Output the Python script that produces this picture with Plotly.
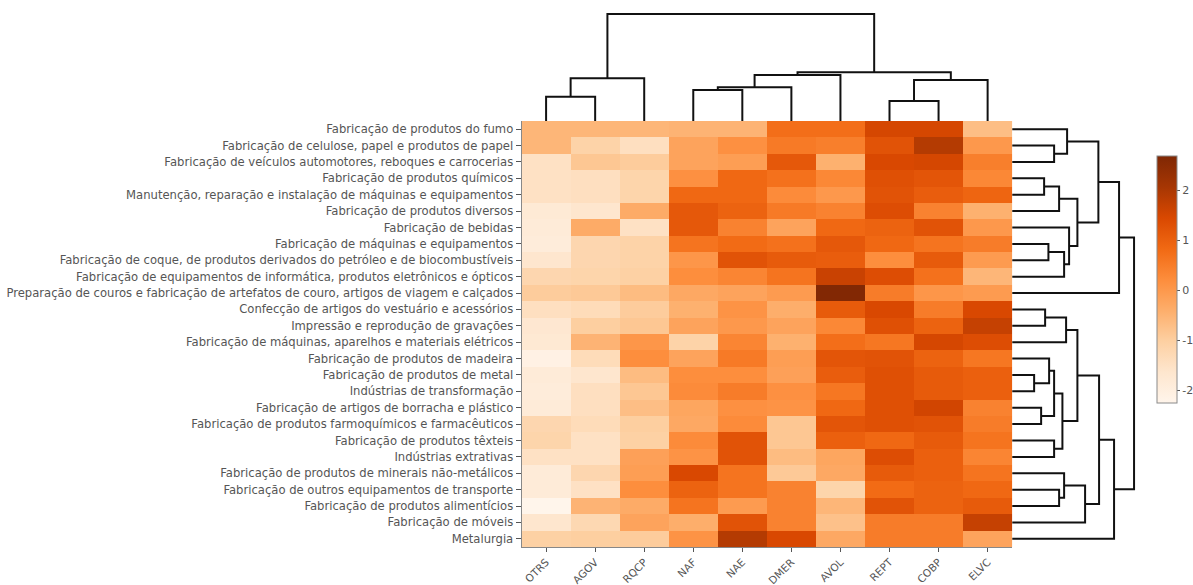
import plotly.graph_objects as go
import plotly.colors as pc

# ---------------- data ----------------
columns = ["OTRS", "AGOV", "RQCP", "NAF", "NAE", "DMER", "AVOL", "REPT", "COBP", "ELVC"]

rows = [
    "Fabricação de produtos do fumo",
    "Fabricação de celulose, papel e produtos de papel",
    "Fabricação de veículos automotores, reboques e carrocerias",
    "Fabricação de produtos químicos",
    "Manutenção, reparação e instalação de máquinas e equipamentos",
    "Fabricação de produtos diversos",
    "Fabricação de bebidas",
    "Fabricação de máquinas e equipamentos",
    "Fabricação de coque, de produtos derivados do petróleo e de biocombustíveis",
    "Fabricação de equipamentos de informática, produtos eletrônicos e ópticos",
    "Preparação de couros e fabricação de artefatos de couro, artigos de viagem e calçados",
    "Confecção de artigos do vestuário e acessórios",
    "Impressão e reprodução de gravações",
    "Fabricação de máquinas, aparelhos e materiais elétricos",
    "Fabricação de produtos de madeira",
    "Fabricação de produtos de metal",
    "Indústrias de transformação",
    "Fabricação de artigos de borracha e plástico",
    "Fabricação de produtos farmoquímicos e farmacêuticos",
    "Fabricação de produtos têxteis",
    "Indústrias extrativas",
    "Fabricação de produtos de minerais não-metálicos",
    "Fabricação de outros equipamentos de transporte",
    "Fabricação de produtos alimentícios",
    "Fabricação de móveis",
    "Metalurgia",
]

# z-scores, one list per row, in column order above
values = [
    [-0.55, -0.55, -0.55, -0.50, -0.50, 0.75, 0.75, 1.50, 1.50, -0.70],
    [-0.55, -1.10, -1.45, -0.20, 0.15, 0.55, 0.45, 1.25, 1.90, 0.00],
    [-1.50, -0.85, -0.95, -0.20, -0.10, 1.15, -0.45, 1.45, 1.50, 0.45],
    [-1.50, -1.45, -1.15, 0.15, 0.85, 0.70, 0.30, 1.30, 1.20, 0.30],
    [-1.50, -1.45, -1.15, 0.85, 0.85, 0.25, 0.00, 1.25, 1.05, 0.90],
    [-1.80, -1.65, -0.35, 1.15, 0.95, 0.55, 0.40, 1.35, 0.40, -0.45],
    [-1.85, -0.35, -1.50, 1.15, 0.40, -0.20, 0.85, 0.95, 1.25, 0.00],
    [-1.90, -1.20, -1.10, 0.65, 0.80, 0.70, 1.15, 0.85, 0.65, 0.50],
    [-1.65, -1.20, -1.10, 0.05, 1.25, 1.10, 1.05, 0.20, 1.10, -0.05],
    [-1.20, -1.15, -1.05, 0.20, 0.35, 0.65, 1.65, 1.35, 0.70, -0.55],
    [-0.95, -0.90, -0.65, -0.30, -0.20, -0.05, 2.65, 0.50, 0.05, -0.05],
    [-1.45, -1.35, -0.95, -0.45, 0.10, -0.40, 1.10, 1.45, 0.50, 1.45],
    [-1.70, -1.00, -0.85, -0.20, 0.00, -0.20, 0.30, 1.30, 0.95, 1.70],
    [-1.75, -0.50, 0.05, -1.10, 0.35, -0.45, 0.75, 0.60, 1.50, 1.35],
    [-2.10, -1.35, 0.20, -0.20, 0.55, -0.10, 1.20, 1.25, 0.95, 0.60],
    [-1.85, -1.65, -0.65, 0.20, 0.20, -0.15, 1.05, 1.30, 1.10, 1.00],
    [-1.90, -1.45, -0.85, 0.25, 0.50, 0.15, 0.60, 1.30, 1.10, 1.00],
    [-1.85, -1.45, -0.70, -0.25, 0.15, 0.10, 0.85, 1.30, 1.55, 0.40],
    [-1.20, -1.35, -1.00, -0.30, 0.25, -0.85, 1.20, 1.30, 1.25, 0.50],
    [-1.15, -1.50, -1.05, 0.25, 1.25, -0.85, 1.00, 0.85, 1.10, 0.65],
    [-1.50, -1.50, -0.15, 0.10, 1.25, -0.65, -0.25, 1.35, 1.00, 0.35],
    [-1.85, -1.20, -0.10, 1.45, 0.65, -0.90, -0.30, 1.10, 1.00, 0.65],
    [-1.85, -1.50, 0.20, 0.95, 0.65, 0.40, -1.15, 0.80, 0.95, 0.85],
    [-2.25, -0.50, -0.35, 0.65, -0.05, 0.40, -0.55, 1.25, 0.95, 1.10],
    [-1.65, -1.25, -0.20, -0.40, 1.25, 0.40, -0.75, 0.50, 0.50, 1.70],
    [-1.05, -1.00, -0.95, 0.10, 1.90, 1.45, -0.30, 0.50, 0.50, -0.20],
]

# hierarchical clustering merges (scipy-linkage style): [left id, right id, height]
# ids < n are leaves (display order), ids >= n are earlier merges
col_linkage = [
    [0, 1, 24.3], [10, 2, 42.7], [3, 4, 31.0], [12, 5, 33.7], [7, 8, 20.0],
    [14, 9, 41.0], [13, 6, 46.0], [16, 15, 48.7], [11, 17, 107.0],
]
row_linkage = [
    [1, 2, 42.0], [0, 26, 55.0], [3, 4, 32.0], [28, 5, 47.0], [7, 8, 36.3],
    [30, 9, 52.0], [6, 31, 57.0], [29, 32, 65.3], [27, 33, 86.3], [34, 10, 107.0],
    [11, 12, 33.0], [36, 13, 54.0], [15, 16, 22.0], [14, 38, 37.0], [17, 18, 29.0],
    [39, 40, 42.0], [19, 20, 42.0], [41, 42, 50.3], [37, 43, 65.3], [22, 23, 47.0],
    [21, 45, 52.0], [46, 24, 73.0], [44, 47, 87.0], [48, 25, 102.0], [35, 49, 122.0],
]

z_min, z_max = -2.26, 2.69
cbar_ticks = [-2, -1, 0, 1, 2]


def dendro_segments(linkage, n):
    pos = {i: float(i) for i in range(n)}
    hgt = {i: 0.0 for i in range(n)}
    p_list, h_list = [], []
    for k, (a, b, h) in enumerate(linkage):
        p_list += [pos[a], pos[a], pos[b], pos[b], None]
        h_list += [hgt[a], h, h, hgt[b], None]
        pos[n + k] = (pos[a] + pos[b]) / 2
        hgt[n + k] = h
    return p_list, h_list


W, H = 1193, 585
hm_x0, hm_x1 = 522 / W, 1013 / W
hm_y0, hm_y1 = 1 - 547 / H, 1 - 121 / H

fig = go.Figure()

fig.add_trace(go.Heatmap(
    z=values,
    x=list(range(len(columns))),
    y=list(range(len(rows))),
    colorscale=pc.sequential.Oranges,
    zmin=z_min, zmax=z_max,
    xaxis="x", yaxis="y",
    colorbar=dict(
        x=1157 / W, xanchor="left", xpad=0,
        y=1 - 279.5 / H, yanchor="middle", ypad=0,
        len=247 / H, lenmode="fraction",
        thickness=20, thicknessmode="pixels",
        outlinecolor="#8a8a8a", outlinewidth=1,
        ticks="outside", ticklen=3, tickcolor="#555",
        tickvals=cbar_ticks, ticktext=[str(t) for t in cbar_ticks],
        tickfont=dict(family="DejaVu Sans", size=11, color="#555"),
    ),
    hovertemplate="%{z}<extra></extra>",
))

cx, ch = dendro_segments(col_linkage, len(columns))
fig.add_trace(go.Scatter(x=cx, y=ch, mode="lines", xaxis="x", yaxis="y2",
                         line=dict(color="#111", width=2), hoverinfo="skip"))

ry, rh = dendro_segments(row_linkage, len(rows))
fig.add_trace(go.Scatter(x=rh, y=ry, mode="lines", xaxis="x3", yaxis="y",
                         line=dict(color="#111", width=2), hoverinfo="skip"))

axis_font = dict(family="DejaVu Sans", size=11.6, color="#555")

fig.update_layout(
    width=W, height=H,
    margin=dict(l=0, r=0, t=0, b=0),
    paper_bgcolor="white", plot_bgcolor="white",
    showlegend=False,
    xaxis=dict(domain=[hm_x0, hm_x1], range=[-0.5, len(columns) - 0.5],
               tickvals=list(range(len(columns))), ticktext=columns,
               tickangle=-45, ticks="outside", ticklen=4, tickcolor="#555",
               showline=True, linecolor="#888", linewidth=1, mirror=False,
               showgrid=False, zeroline=False, automargin=False,
               tickfont=dict(family="DejaVu Sans", size=10.5, color="#555"),
               anchor="y"),
    yaxis=dict(domain=[hm_y0, hm_y1], range=[len(rows) - 0.5, -0.5],
               tickvals=list(range(len(rows))), ticktext=rows,
               ticks="outside", ticklen=5, tickcolor="#555",
               showline=True, linecolor="#888", linewidth=1,
               showgrid=False, zeroline=False, automargin=False,
               tickfont=axis_font, anchor="x"),
    yaxis2=dict(domain=[hm_y1, 1.0], range=[0, 121], visible=False,
                anchor="x", showgrid=False, zeroline=False),
    xaxis3=dict(domain=[hm_x1, 1143 / W], range=[0, 130], visible=False,
                anchor="y", showgrid=False, zeroline=False),
)

fig.write_html("out.html",
               config={"displayModeBar": False},
               post_script="document.body.style.margin='0';document.body.style.overflow='hidden';")
